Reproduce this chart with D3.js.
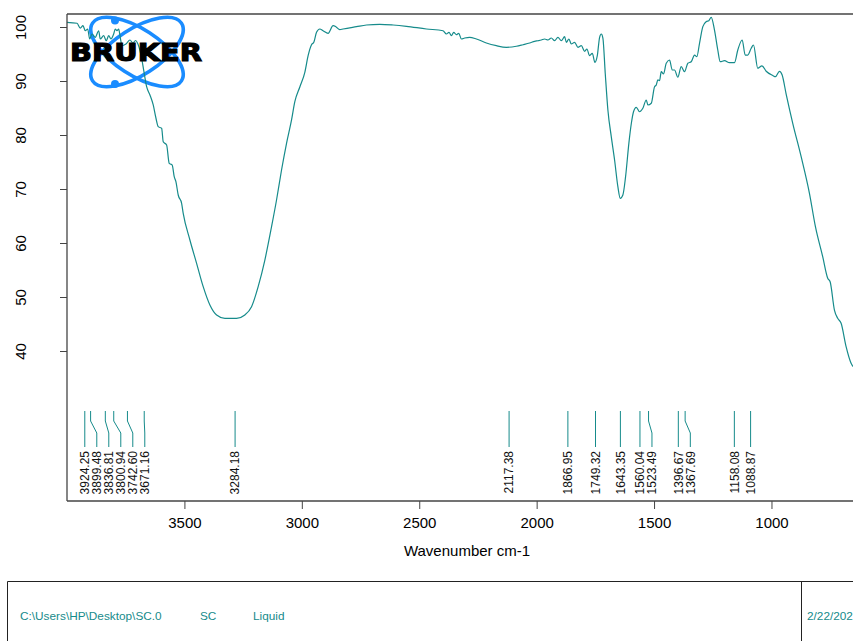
<!DOCTYPE html>
<html>
<head>
<meta charset="utf-8">
<script src="https://cdn.jsdelivr.net/npm/d3@7"></script>
<style>
html,body{margin:0;padding:0;background:#fff;overflow:hidden;}
svg{display:block;}
</style>
</head>
<body>
<svg id="chart" width="853" height="641"></svg>
<script>
// Spectrum: wavenumber (cm-1) and transmittance (%)
const wavenumbers = [4000,3957.4,3943.4,3931.9,3922.1,3911.9,3903.4,3893.6,3879.6,3865.1,3858.3,3843.8,3832.8,3822.6,3812.8,3801.3,3794.5,3787.2,3780.0,3773.2,3766.0,3748.9,3731.9,3719.1,3708.5,3697.9,3682.1,3672.3,3660.9,3646.8,3632.8,3621.3,3611.5,3597.0,3590.2,3575.8,3564.7,3551.9,3543.4,3536.2,3526.4,3511.9,3505.1,3476.6,3448.1,3420.0,3391.5,3362.9,3327.7,3277.9,3242.6,3214.1,3185.9,3157.4,3128.9,3107.7,3086.4,3065.1,3043.8,3029.8,3008.5,2987.2,2973.2,2958.7,2948.9,2937.4,2923.4,2909.4,2888.1,2866.8,2855.3,2838.3,2824.3,2767.3,2724.7,2668.1,2611.5,2554.5,2469.4,2398.7,2384.3,2373.2,2363.0,2353.2,2341.7,2331.9,2320.4,2306.4,2285.1,2256.6,2214.1,2171.5,2128.9,2086.4,2058.3,2029.8,2008.5,1994.4,1980.0,1965.9,1951.9,1937.5,1923.4,1909.4,1894.9,1880.9,1873.6,1862.6,1852.4,1838.3,1824.3,1809.8,1795.7,1785.9,1774.5,1763.0,1751.9,1741.7,1731.9,1724.7,1717.9,1707.7,1696.6,1682.2,1668.1,1654.1,1643.9,1632.8,1621.3,1607.3,1596.7,1587.5,1575.7,1561.7,1547.7,1533.2,1526.4,1511.9,1497.9,1490.7,1483.9,1476.6,1469.4,1459.6,1448.1,1434.0,1422.6,1412.8,1398.7,1384.3,1370.2,1356.2,1341.7,1327.7,1317.9,1306.4,1292.3,1277.9,1266.8,1256.6,1242.6,1228.6,1218.2,1200.0,1178.7,1157.4,1143.4,1124.7,1111.9,1100.9,1086.4,1076.6,1058.3,1040.4,1022.6,994.5,983.0,966.0,954.5,937.5,909.4,873.6,838.3,812.8,781.8,760.4,750.2,731.9,717.9,703.4,682.2,660.9,646.8];
const transmittance = [100.87,100.69,99.81,100.24,99.31,99.63,97.78,98.70,98.09,99.31,97.78,98.39,97.46,98.39,97.78,98.70,99.63,99.31,99.63,98.09,96.54,96.85,97.59,97.04,97.50,96.85,94.20,91.72,88.94,87.41,85.56,83.15,81.54,81.24,78.76,78.15,74.76,74.44,72.28,71.35,68.89,67.35,65.50,60.56,56.24,51.91,48.52,46.67,46.05,46.05,46.67,48.20,51.91,56.85,63.02,67.96,73.52,78.46,82.78,86.17,88.89,91.61,94.69,96.72,97.17,99.02,99.63,99.31,98.83,100.24,100.06,99.50,99.63,100.06,100.37,100.50,100.37,100.13,99.63,99.31,98.70,99.02,98.39,99.02,98.57,98.83,97.78,97.96,98.09,97.78,97.04,96.54,96.24,96.43,96.72,97.04,97.35,97.46,97.59,97.78,97.59,97.96,97.46,98.09,97.46,98.20,97.17,97.78,96.85,97.17,96.24,96.54,95.50,95.93,94.69,95.13,93.46,94.69,98.09,98.70,97.96,91.30,84.63,79.69,75.37,70.43,68.28,68.89,72.28,78.46,82.17,84.31,85.13,84.31,84.94,86.48,85.56,85.87,88.94,89.26,90.19,90.06,91.72,91.30,93.28,93.89,92.04,92.04,90.69,92.65,91.72,93.28,93.57,94.81,94.50,96.98,100.06,100.98,101.17,101.80,99.44,95.74,93.57,93.76,93.39,93.39,95.74,97.59,94.81,94.81,96.06,96.67,92.35,92.81,91.81,91.02,90.80,91.80,91.11,87.59,82.17,75.98,69.20,63.02,57.46,53.46,52.83,47.59,46.05,45.13,40.80,37.72,36.85];

// Peak picks
const peaks = [3924.25,3899.48,3836.81,3800.94,3742.60,3671.16,3284.18,2117.38,1866.95,1749.32,1643.35,1560.04,1523.49,1396.67,1367.69,1158.08,1088.87];

// Axes ticks
const xTicks = [3500,3000,2500,2000,1500,1000];
const yTicks = [40,50,60,70,80,90,100];

// Footer texts (date is shown truncated in the reference)
const footerTexts = ["C:\\Users\\HP\\Desktop\\SC.0","SC","Liquid"];
const footerDate = "2/22/202";

(function(){
const teal = "#168b8b";
const svg = d3.select("#chart");
const W = 853, H = 641;
const pLeft = 67, pTop = 14, pBottom = 501;
const font = "Liberation Sans, Arial, sans-serif";

const x = d3.scaleLinear().domain([4000, 600]).range([67, 865.4]);
const y = d3.scaleLinear().domain([40, 100]).range([351, 27]);

// Bruker logo ellipses
const logo = svg.append("g");
const lcx = 137, lcy = 52;
[33, -33].forEach(a => {
  logo.append("ellipse")
    .attr("cx", lcx).attr("cy", lcy).attr("rx", 53).attr("ry", 23)
    .attr("transform", `rotate(${a},${lcx},${lcy})`)
    .attr("fill", "none").attr("stroke", "#1a8cff").attr("stroke-width", 3.6);
});
logo.append("circle").attr("cx", 115).attr("cy", 20.5).attr("r", 4).attr("fill", "#1a8cff");
logo.append("circle").attr("cx", 115).attr("cy", 84).attr("r", 4).attr("fill", "#1a8cff");

// Spectrum curve
const data = wavenumbers.map((w, i) => ({w, t: transmittance[i]}));
svg.append("path")
  .datum(data)
  .attr("fill", "none")
  .attr("stroke", teal)
  .attr("stroke-width", 1.2)
  .attr("d", d3.line().x(d => x(d.w)).y(d => y(d.t)).curve(d3.curveMonotoneX));

// Logo text on top
svg.append("text")
  .attr("x", 70).attr("y", 61)
  .attr("font-family", "DejaVu Sans").attr("font-weight", "bold")
  .attr("font-size", 25)
  .attr("textLength", 132).attr("lengthAdjust", "spacingAndGlyphs")
  .attr("fill", "#000").attr("stroke", "#000").attr("stroke-width", 1.2)
  .text("BRUKER");

// Frame
const frame = svg.append("g").attr("stroke", "#444").attr("stroke-width", 1.3).attr("fill", "none");
frame.append("line").attr("x1", pLeft).attr("x2", W).attr("y1", pTop).attr("y2", pTop);
frame.append("line").attr("x1", pLeft).attr("x2", pLeft).attr("y1", pTop).attr("y2", pBottom);

// X axis
const xAxis = svg.append("g").attr("transform", `translate(0,${pBottom})`)
  .call(d3.axisBottom(x).tickValues(xTicks).tickSize(8).tickSizeOuter(0).tickPadding(8).tickFormat(d3.format("d")));
xAxis.select(".domain").attr("d", `M${pLeft},0H${W + 20}`).attr("stroke", "#444").attr("stroke-width", 1.3);
xAxis.selectAll(".tick line").attr("stroke", "#444");
xAxis.selectAll(".tick text").attr("font-family", font).attr("font-size", 15).attr("fill", "#000");

// Y axis
const yAxis = svg.append("g").attr("transform", `translate(${pLeft},0)`)
  .call(d3.axisLeft(y).tickValues(yTicks).tickSize(7).tickSizeOuter(0).tickFormat(d3.format("d")));
yAxis.select(".domain").remove();
yAxis.selectAll(".tick line").attr("stroke", "#444");
yAxis.selectAll(".tick text")
  .attr("font-family", font).attr("font-size", 15).attr("fill", "#000")
  .attr("text-anchor", "middle")
  .attr("x", null).attr("dy", null)
  .attr("transform", "translate(-41,0) rotate(-90)");

// X axis title
svg.append("text")
  .attr("x", 467).attr("y", 556).attr("text-anchor", "middle")
  .attr("font-family", font).attr("font-size", 15).attr("fill", "#000")
  .text("Wavenumber cm-1");

// Peak labels with spreading
const minGap = 12;
let lastX = -Infinity;
const peakPos = peaks.map(p => {
  const px = x(p);
  const lx = Math.max(px, lastX + minGap);
  lastX = lx;
  return {p, px, lx};
});
const pk = svg.append("g");
pk.selectAll("path").data(peakPos).join("path")
  .attr("fill", "none").attr("stroke", teal).attr("stroke-width", 1)
  .attr("d", d => `M${d.px},411V421L${d.lx},433V447`);
pk.selectAll("text").data(peakPos).join("text")
  .attr("transform", d => `translate(${d.lx},451) rotate(-90)`)
  .attr("text-anchor", "end").attr("dy", "0.36em")
  .attr("font-family", font).attr("font-size", 12).attr("fill", "#111")
  .text(d => d.p.toFixed(2));

// Footer box
const fb = svg.append("g").attr("stroke", "#222").attr("stroke-width", 1).attr("fill", "none");
fb.append("path").attr("d", `M7.5,${H}V581.5H${W}`);
fb.append("line").attr("x1", 801.5).attr("x2", 801.5).attr("y1", 581.5).attr("y2", H);
const fx = [20, 200, 253];
svg.selectAll("text.foot").data(footerTexts).join("text").attr("class", "foot")
  .attr("x", (d, i) => fx[i]).attr("y", 620)
  .attr("font-family", font).attr("font-size", 11.8).attr("fill", teal)
  .text(d => d);
svg.append("text").attr("x", 807).attr("y", 620)
  .attr("font-family", font).attr("font-size", 11.8).attr("fill", teal)
  .text(footerDate);
})();
</script>
</body>
</html>
